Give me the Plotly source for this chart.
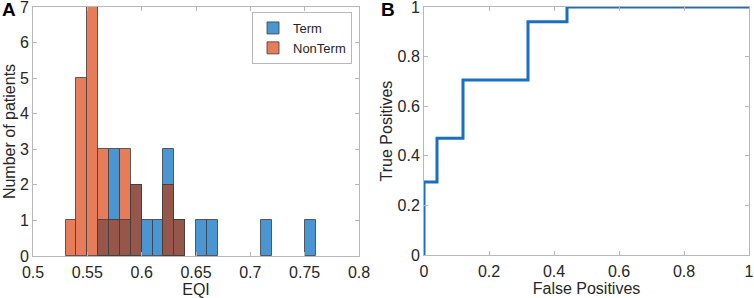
import numpy as np
import plotly.graph_objects as go

# ---- data ----
bin_left = [0.53, 0.54, 0.55, 0.56, 0.57, 0.58, 0.59, 0.60, 0.61, 0.62, 0.63, 0.64,
            0.65, 0.66, 0.67, 0.68, 0.69, 0.70, 0.71, 0.72, 0.73, 0.74, 0.75]
term_counts = [0, 0, 0, 1, 3, 1, 2, 1, 1, 3, 1, 0,
               1, 1, 0, 0, 0, 0, 1, 0, 0, 0, 1]
nonterm_counts = [1, 5, 7, 3, 1, 3, 2, 0, 0, 2, 1, 0,
                  0, 0, 0, 0, 0, 0, 0, 0, 0, 0, 0]
bin_width = 0.01

roc_fpr = [0, 0, 0.04, 0.12, 0.32, 0.44, 1.0]
roc_tpr = [0, 0.294, 0.471, 0.706, 0.941, 1.0, 1.0]

hist_xticks = [0.5, 0.55, 0.6, 0.65, 0.7, 0.75, 0.8]
hist_yticks = [0, 1, 2, 3, 4, 5, 6, 7]
roc_ticks = [0, 0.2, 0.4, 0.6, 0.8, 1]

# ---- styling ----
FONT = "Liberation Sans, Arial, Helvetica, sans-serif"
BLUE = "#4A96D2"
ORANGE = "#E67C5A"
BROWN = "#97564A"
EDGE = "rgba(60,60,60,0.8)"
AXC = "#b8b8b8"
TXT = "#262626"
FS = 16

centers = np.array(bin_left) + bin_width / 2
term = np.array(term_counts, dtype=float)
nonterm = np.array(nonterm_counts, dtype=float)
overlap = np.minimum(term, nonterm)


def nz(a):
    return [v if v > 0 else None for v in a]


fig = go.Figure()
fig.add_trace(go.Bar(x=centers, y=nz(term), width=bin_width, name="Term",
                     marker=dict(color=BLUE, line=dict(color=EDGE, width=1)),
                     xaxis="x", yaxis="y"))
fig.add_trace(go.Bar(x=centers, y=nz(nonterm), width=bin_width, name="NonTerm",
                     marker=dict(color=ORANGE, line=dict(color=EDGE, width=1)),
                     xaxis="x", yaxis="y"))
fig.add_trace(go.Bar(x=centers, y=nz(overlap), width=bin_width, name="overlap",
                     showlegend=False,
                     marker=dict(color=BROWN, line=dict(color=EDGE, width=1)),
                     xaxis="x", yaxis="y"))
fig.add_trace(go.Scatter(x=roc_fpr, y=roc_tpr, mode="lines", line_shape="hv",
                         line=dict(color="#1a6ec4", width=3), showlegend=False,
                         xaxis="x2", yaxis="y2"))

axis_common = dict(showline=True, linecolor=AXC, linewidth=1, mirror="ticks",
                   ticks="inside", ticklen=4, tickcolor=AXC, showgrid=False,
                   zeroline=False, ticklabeloverflow="allow",
                   tickfont=dict(size=FS, color=TXT, family=FONT))
title_font = dict(size=FS, color=TXT, family=FONT)

fig.update_layout(
    width=754, height=298,
    margin=dict(l=0, r=0, t=0, b=0, pad=0, autoexpand=False),
    paper_bgcolor="white", plot_bgcolor="white",
    barmode="overlay", bargap=0,
    font=dict(family=FONT, color=TXT),
    xaxis=dict(domain=[33 / 754, 359 / 754], range=[0.5, 0.8], tickvals=hist_xticks,
               ticktext=[f"{v:g}" for v in hist_xticks], anchor="y",
               ticklabelstandoff=2,
               title=dict(text="EQI", font=title_font, standoff=0),
               **axis_common),
    yaxis=dict(domain=[42 / 298, 291 / 298], range=[0, 7], tickvals=hist_yticks,
               anchor="x",
               title=dict(text="Number of patients", font=title_font, standoff=0),
               **axis_common),
    xaxis2=dict(domain=[424 / 754, 749 / 754], range=[0, 1], tickvals=roc_ticks,
                ticktext=[f"{v:g}" for v in roc_ticks], anchor="y2",
                ticklabelstandoff=2,
                title=dict(text="False Positives", font=title_font, standoff=0),
                **axis_common),
    yaxis2=dict(domain=[43 / 298, 291 / 298], range=[0, 1], tickvals=roc_ticks,
                ticktext=[f"{v:g}" for v in roc_ticks], anchor="x2",
                title=dict(text="True Positives", font=title_font, standoff=0),
                **axis_common),
    legend=dict(x=352 / 754, xanchor="right", y=(298 - 12) / 298, yanchor="top",
                bgcolor="white", bordercolor=AXC, borderwidth=1,
                font=dict(size=13, color=TXT, family=FONT),
                tracegroupgap=0, itemwidth=30),
    annotations=[
        dict(text="<b>A</b>", x=0, y=1.01, xref="paper", yref="paper", xanchor="left",
             yanchor="top", showarrow=False, font=dict(size=19, color="black", family=FONT)),
        dict(text="<b>B</b>", x=379 / 754, y=1.01, xref="paper", yref="paper", xanchor="left",
             yanchor="top", showarrow=False, font=dict(size=19, color="black", family=FONT)),
    ],
)

fig.write_html("out.html", config={"displayModeBar": False},
               post_script="document.body.style.margin='0';document.body.style.padding='0';")
